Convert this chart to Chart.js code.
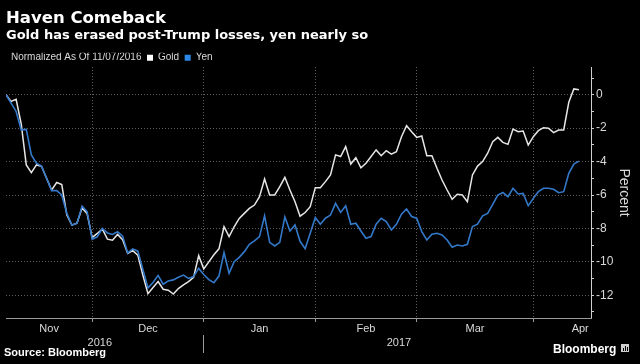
<!DOCTYPE html>
<html>
<head>
<meta charset="utf-8">
<script src="https://cdn.jsdelivr.net/npm/chart.js@4.4.1/dist/chart.umd.min.js"></script>
<style>
html,body{margin:0;padding:0;background:#000;}
canvas{display:block;}
</style>
</head>
<body>
<canvas id="c" width="640" height="364"></canvas>
<script>
// ---------- data ----------
const titleText = 'Haven Comeback';
const subtitleText = 'Gold has erased post-Trump losses, yen nearly so';
const noteText = 'Normalized As Of 11/07/2016';
const sourceText = 'Source: Bloomberg';
const brandText = 'Bloomberg';
const axisTitle = 'Percent';

const seriesNames = ['Gold', 'Yen'];
const monthNames = ['Nov', 'Dec', 'Jan', 'Feb', 'Mar', 'Apr'];
// trading-day index (weekdays counted from 2016-11-08) where each month begins; last = end of April
const monthBounds = [0, 17, 39, 61, 81, 104, 122.5];
const yearNames = ['2016', '2017'];
const yearLabelAt = [18.5, 77.5];
const yearBreak = 39;
const yTicks = [1, 0, -1, -2, -3, -4, -5, -6, -7, -8, -9, -10, -11, -12, -13];

const gold = [
  0, -0.4, -0.27, -1.75, -4.2, -4.66, -4.2, -4.28, -5.0, -5.7,
  -5.25, -5.38, -7.2, -7.8, -7.68, -6.78, -7.12, -8.55, -8.3, -8.03,
  -8.64, -8.7, -8.36, -8.67, -9.5, -9.33, -9.6, -10.8, -11.9, -11.53,
  -11.18, -11.64, -11.7, -11.93, -11.6, -11.38, -11.18, -10.93, -9.63, -10.42,
  -10.0, -9.58, -9.22, -7.9, -8.49, -7.9, -7.4, -7.1, -6.8, -6.6,
  -6.1, -5.04, -6.0, -6.0, -5.5, -4.94, -5.7, -6.4, -7.27, -7.05,
  -6.7, -5.56, -5.56, -5.2, -4.8, -3.6, -3.7, -3.1, -4.15, -3.77,
  -4.37, -4.1, -3.7, -3.3, -3.65, -3.35, -3.55, -3.41, -2.51, -1.85,
  -2.21, -2.55, -2.47, -3.65, -3.65, -4.4, -5.1, -5.7, -6.26, -5.96,
  -6.0, -6.4, -4.8, -4.27, -4.0, -3.5, -2.81, -2.55, -2.85, -2.97,
  -2.05, -2.21, -2.17, -3.01, -2.51, -2.15, -1.97, -2.0, -2.27, -2.11,
  -2.11, -0.45, 0.35, 0.3
];
const yen = [
  0, -0.5, -1.0, -2.1, -2.07, -3.6, -4.1, -4.27, -5.0, -5.74,
  -5.74, -6.0, -7.1, -7.8, -7.7, -6.66, -7.0, -8.65, -8.5, -8.0,
  -8.27, -8.36, -8.2, -8.46, -9.47, -9.23, -9.36, -10.46, -11.56, -11.24,
  -10.81, -11.34, -11.14, -11.08, -10.92, -10.79, -10.99, -10.88, -10.39, -10.76,
  -11.06, -11.25, -10.85, -9.45, -10.68, -9.99, -9.73, -9.39, -8.95, -8.75,
  -8.49, -7.24, -8.83, -9.05, -8.83, -7.31, -8.15, -7.79, -8.77, -9.21,
  -8.29, -7.35, -7.75, -7.39, -7.2, -6.5, -7.04, -6.64, -7.75, -7.69,
  -8.15, -8.59, -8.49, -7.75, -7.39, -7.59, -8.09, -7.75, -7.15, -6.84,
  -7.29, -7.39, -8.19, -8.69, -8.35, -8.29, -8.39, -8.69, -9.13, -8.99,
  -9.05, -8.95, -7.89, -7.75, -7.25, -7.1, -6.56, -6.0, -5.85, -6.1,
  -5.6, -5.94, -5.9, -6.64, -6.2, -5.8, -5.6, -5.6, -5.66, -5.86,
  -5.8, -4.7, -4.15, -3.97
];

// ---------- derived ----------
const X_MIN = 0, X_MAX = 115.38;
const Y_MIN = -13.36, Y_MAX = 1.66;
const monthMid = monthNames.map((m, i) => (monthBounds[i] + monthBounds[i + 1]) / 2);
const monthEdges = monthBounds.slice(1, -1);
const isEdge = v => monthEdges.indexOf(v) !== -1;

const SANS = '"Liberation Sans", Arial, sans-serif';
const WIDE = '"DejaVu Sans", Verdana, sans-serif';
const TXT = '#d9d9d9';
const GRID = '#5e5e5e';
const NONE = 'rgba(0,0,0,0)';
const GOLD_LINE = '#e6e6e6', GOLD_KEY = '#ffffff';
const YEN_LINE = '#3479c9', YEN_KEY = '#2b88e6';

Chart.defaults.font.family = SANS;

const framePlugin = {
  id: 'frame',
  beforeDraw(chart) {
    const ctx = chart.ctx;
    ctx.save();
    ctx.fillStyle = '#000';
    ctx.fillRect(0, 0, chart.width, chart.height);
    ctx.restore();
  },
  afterDraw(chart) {
    const ctx = chart.ctx;
    ctx.save();
    ctx.fillStyle = '#ffffff';
    ctx.textAlign = 'left';
    ctx.textBaseline = 'alphabetic';
    ctx.font = 'bold 11px ' + SANS;
    ctx.fillText(sourceText, 4, 356);
    ctx.font = 'bold 12px ' + SANS;
    ctx.fillText(brandText, 553, 353);
    ctx.fillStyle = '#cfcfcf';
    ctx.fillRect(621, 344, 8, 8);
    ctx.fillStyle = '#000';
    ctx.fillRect(623, 348, 1, 3);
    ctx.fillRect(625, 346, 1, 5);
    ctx.fillRect(627, 347, 1, 4);
    ctx.restore();
  }
};

new Chart(document.getElementById('c'), {
  type: 'line',
  data: {
    datasets: [
      {
        label: seriesNames[0],
        data: gold.map((v, i) => ({ x: i, y: v })),
        borderColor: GOLD_LINE,
        backgroundColor: GOLD_KEY,
        borderWidth: 1.5,
        pointRadius: 0,
        tension: 0,
        order: 1,
        xAxisID: 'x',
        yAxisID: 'y'
      },
      {
        label: seriesNames[1],
        data: yen.map((v, i) => ({ x: i, y: v })),
        borderColor: YEN_LINE,
        backgroundColor: YEN_KEY,
        borderWidth: 1.6,
        pointRadius: 0,
        tension: 0,
        order: 0,
        xAxisID: 'x',
        yAxisID: 'y'
      }
    ]
  },
  options: {
    responsive: false,
    animation: false,
    devicePixelRatio: 1,
    events: [],
    layout: { padding: { left: 0, right: 0, top: 0, bottom: 10 } },
    plugins: {
      title: {
        display: true, text: titleText, align: 'start', color: '#ffffff', fullSize: false,
        font: { family: WIDE, weight: 'bold', size: 16.5, lineHeight: 1 },
        padding: { top: 10.25, bottom: 0 }
      },
      subtitle: {
        display: true, text: subtitleText, align: 'start', color: '#ffffff', fullSize: false,
        font: { family: WIDE, weight: 'bold', size: 13, lineHeight: 1 },
        padding: { top: 2.25, bottom: 10.7 }
      },
      legend: {
        display: true, position: 'top', align: 'start', fullSize: true, maxHeight: 14.3,
        labels: {
          boxWidth: 6, boxHeight: 6, padding: 0, color: TXT,
          font: { family: SANS, size: 10 },
          generateLabels: (chart) => {
            const items = [{
              text: noteText + '  ', fillStyle: NONE, strokeStyle: NONE, lineWidth: 0,
              fontColor: TXT, hidden: false, datasetIndex: -1
            }];
            chart.data.datasets.forEach((d, i) => {
              items.push({
                text: d.label + (i === 0 ? '  ' : ''), fillStyle: d.backgroundColor,
                strokeStyle: d.backgroundColor, lineWidth: 0, fontColor: TXT,
                hidden: false, datasetIndex: i
              });
            });
            return items;
          }
        }
      },
      tooltip: { enabled: false }
    },
    scales: {
      yl: {
        type: 'linear', position: 'left', display: true, min: 0, max: 1,
        afterFit: s => { s.width = 6; },
        ticks: { display: false },
        grid: { display: false, drawTicks: false },
        border: { display: false }
      },
      y: {
        type: 'linear', position: 'right', min: Y_MIN, max: Y_MAX,
        afterBuildTicks: s => { s.ticks = yTicks.map(v => ({ value: v })); },
        afterFit: s => { s.width = 49; },
        ticks: {
          autoSkip: false, padding: 2, color: TXT,
          font: { family: SANS, size: 12 },
          callback: v => (v % 2 === 0 ? String(v) : '')
        },
        grid: {
          color: c => (c.tick && c.tick.value % 2 === 0) ? GRID : NONE,
          tickColor: '#cfcfcf', tickLength: 3, lineWidth: 1
        },
        border: { display: true, color: '#cfcfcf', width: 1, dash: [1, 2] },
        title: {
          display: true, text: axisTitle, color: TXT,
          font: { family: SANS, size: 14 },
          padding: { top: 7.6, bottom: 0 }
        }
      },
      x: {
        type: 'linear', position: 'bottom', min: X_MIN, max: X_MAX,
        afterBuildTicks: s => { s.ticks = monthEdges.concat(monthMid).sort((a, b) => a - b).map(v => ({ value: v })); },
        afterFit: s => { s.height = 17; },
        ticks: {
          autoSkip: false, maxRotation: 0, minRotation: 0, padding: 0, color: TXT,
          font: { family: SANS, size: 11 },
          callback: v => { const k = monthMid.indexOf(v); return k === -1 ? '' : monthNames[k]; }
        },
        grid: {
          color: c => (c.tick && isEdge(c.tick.value)) ? GRID : NONE,
          tickColor: c => (c.tick && isEdge(c.tick.value)) ? '#9a9a9a' : NONE,
          tickLength: 4, lineWidth: 1
        },
        border: { display: true, color: '#9a9a9a', width: 1, dash: [1, 2] }
      },
      x2: {
        type: 'linear', position: 'bottom', min: X_MIN, max: X_MAX,
        afterBuildTicks: s => { s.ticks = [yearLabelAt[0], yearBreak, yearLabelAt[1]].map(v => ({ value: v })); },
        afterFit: s => { s.height = 19; },
        ticks: {
          autoSkip: false, maxRotation: 0, minRotation: 0, padding: -16.6, color: TXT,
          font: { family: SANS, size: 11 },
          callback: v => { const k = yearLabelAt.indexOf(v); return k === -1 ? '' : yearNames[k]; }
        },
        grid: {
          drawOnChartArea: false, drawTicks: true, tickLength: 18, color: NONE,
          tickColor: c => (c.tick && c.tick.value === yearBreak) ? '#9a9a9a' : NONE
        },
        border: { display: false }
      }
    }
  },
  plugins: [framePlugin]
});
</script>
</body>
</html>
